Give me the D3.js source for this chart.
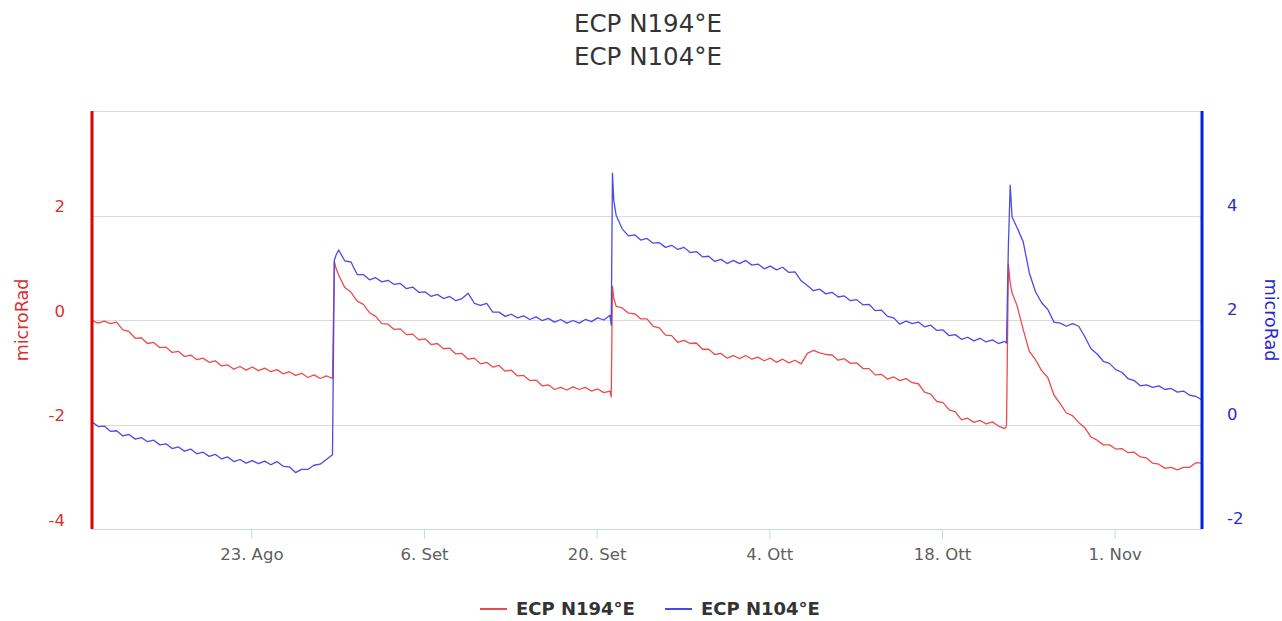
<!DOCTYPE html>
<html>
<head>
<meta charset="utf-8">
<script src="https://cdn.jsdelivr.net/npm/d3@7"></script>
<style>
  html, body { margin: 0; padding: 0; background: #ffffff; }
  svg { display: block; font-family: "DejaVu Sans", "Noto Sans", sans-serif; }
</style>
</head>
<body>
<svg id="chart" width="1282" height="621"></svg>
<script>
// ---- Chart data -------------------------------------------------------
const titleLines = ["ECP N194°E", "ECP N104°E"];
const seriesNames = ["ECP N194°E", "ECP N104°E"];
const axisTitle = "microRad";

// Time base of the record and offsets of each sample, in days
const startTime = "2019-08-10T02:00:00Z";
const spanDays = 90;
const dayOffsets = [
  0, 0.5, 1, 1.5, 2, 2.5, 3, 3.5, 4, 4.5, 5, 5.5, 6, 6.5, 7, 7.5, 8, 8.5, 9, 9.5,
  10, 10.5, 11, 11.5, 12, 12.5, 13, 13.5, 14, 14.5, 15, 15.5, 16, 16.5, 17, 17.5, 18, 18.5, 19, 19.5,
  19.65, 19.8,
  20, 20.5, 21, 21.5, 22, 22.5, 23, 23.5, 24, 24.5, 25, 25.5, 26, 26.5, 27, 27.5, 28, 28.5, 29, 29.5,
  30, 30.5, 31, 31.5, 32, 32.5, 33, 33.5, 34, 34.5, 35, 35.5, 36, 36.5, 37, 37.5, 38, 38.5, 39, 39.5,
  40, 40.5, 41, 41.5, 42,
  42.1, 42.2, 42.3,
  42.5, 43, 43.5, 44, 44.5, 45, 45.5, 46, 46.5, 47, 47.5, 48, 48.5, 49, 49.5,
  50, 50.5, 51, 51.5, 52, 52.5, 53, 53.5, 54, 54.5, 55, 55.5, 56, 56.5, 57, 57.5, 58, 58.5, 59, 59.5,
  60, 60.5, 61, 61.5, 62, 62.5, 63, 63.5, 64, 64.5, 65, 65.5, 66, 66.5, 67, 67.5, 68, 68.5, 69, 69.5,
  70, 70.5, 71, 71.5, 72, 72.5, 73, 73.5, 74,
  74.15, 74.3, 74.45, 74.6,
  75, 75.5, 76, 76.5, 77, 77.5, 78, 78.5, 79, 79.5, 80, 80.5, 81, 81.5, 82, 82.5, 83, 83.5, 84, 84.5,
  85, 85.5, 86, 86.5, 87, 87.5, 88, 88.5, 89, 89.5, 90
];

// ECP N194°E (left axis, microRad)
const n194 = [
  -0.01, -0.06, -0.02, -0.07, -0.04, -0.19, -0.22, -0.35, -0.34, -0.45, -0.43, -0.53, -0.52, -0.62, -0.60, -0.70, -0.67, -0.76, -0.73, -0.81,
  -0.78, -0.88, -0.86, -0.94, -0.89, -0.96, -0.90, -0.97, -0.92, -0.99, -0.95, -1.03, -0.99, -1.06, -1.02, -1.10, -1.05, -1.12, -1.07, -1.12,
  1.12, 0.98,
  0.86, 0.62, 0.53, 0.36, 0.30, 0.14, 0.07, -0.07, -0.08, -0.18, -0.17, -0.28, -0.27, -0.38, -0.36, -0.47, -0.45, -0.55, -0.54, -0.65,
  -0.64, -0.75, -0.73, -0.84, -0.81, -0.90, -0.87, -0.98, -0.96, -1.07, -1.06, -1.16, -1.15, -1.26, -1.24, -1.33, -1.29, -1.34, -1.28, -1.33,
  -1.29, -1.36, -1.32, -1.39, -1.36,
  -1.47, 0.65, 0.42,
  0.26, 0.23, 0.13, 0.12, 0.02, 0.02, -0.12, -0.15, -0.29, -0.30, -0.43, -0.39, -0.45, -0.44, -0.56,
  -0.56, -0.66, -0.64, -0.73, -0.68, -0.74, -0.68, -0.75, -0.71, -0.78, -0.73, -0.81, -0.75, -0.82, -0.77, -0.84, -0.64, -0.58, -0.63, -0.66,
  -0.67, -0.77, -0.74, -0.83, -0.82, -0.93, -0.93, -1.05, -1.04, -1.13, -1.09, -1.16, -1.12, -1.20, -1.22, -1.38, -1.42, -1.56, -1.58, -1.72,
  -1.76, -1.91, -1.88, -1.96, -1.92, -1.99, -1.95, -2.03, -2.08,
  -2.03, 1.07, 0.70, 0.52,
  0.28, -0.18, -0.60, -0.76, -0.97, -1.10, -1.44, -1.60, -1.78, -1.83, -1.96, -2.06, -2.24, -2.30, -2.39, -2.39, -2.47, -2.46, -2.54, -2.53,
  -2.62, -2.64, -2.74, -2.76, -2.84, -2.82, -2.87, -2.82, -2.82, -2.73, -2.74
];

// ECP N104°E (right axis, microRad)
const n104 = [
  -0.15, -0.24, -0.23, -0.33, -0.32, -0.42, -0.39, -0.48, -0.45, -0.53, -0.50, -0.59, -0.57, -0.66, -0.63, -0.71, -0.67, -0.76, -0.73, -0.81,
  -0.77, -0.86, -0.82, -0.91, -0.87, -0.94, -0.89, -0.95, -0.90, -0.97, -0.91, -1.00, -1.01, -1.12, -1.06, -1.06, -0.98, -0.96, -0.87, -0.78,
  2.95, 3.05,
  3.14, 2.93, 2.91, 2.67, 2.67, 2.57, 2.61, 2.53, 2.56, 2.48, 2.50, 2.40, 2.43, 2.33, 2.34, 2.25, 2.29, 2.21, 2.25, 2.17,
  2.21, 2.31, 2.12, 2.08, 2.12, 1.95, 1.95, 1.87, 1.91, 1.84, 1.88, 1.81, 1.86, 1.79, 1.83, 1.76, 1.81, 1.74, 1.79, 1.74,
  1.81, 1.77, 1.84, 1.80, 1.89,
  1.70, 4.61, 4.10,
  3.80, 3.54, 3.41, 3.43, 3.33, 3.36, 3.27, 3.28, 3.19, 3.23, 3.15, 3.19, 3.09, 3.11, 3.01,
  3.02, 2.92, 2.96, 2.88, 2.94, 2.88, 2.94, 2.85, 2.87, 2.78, 2.83, 2.76, 2.81, 2.71, 2.72, 2.55, 2.46, 2.36, 2.39, 2.30,
  2.33, 2.24, 2.26, 2.17, 2.19, 2.09, 2.10, 1.98, 1.99, 1.87, 1.84, 1.72, 1.78, 1.73, 1.76, 1.67, 1.70, 1.60, 1.61, 1.50,
  1.52, 1.43, 1.47, 1.40, 1.45, 1.38, 1.42, 1.35, 1.39,
  1.36, 3.20, 4.38, 3.77,
  3.57, 3.30, 2.70, 2.34, 2.13, 2.00, 1.76, 1.74, 1.68, 1.73, 1.68, 1.48, 1.25, 1.15, 1.01, 0.97, 0.85, 0.80, 0.68, 0.64,
  0.54, 0.56, 0.51, 0.54, 0.47, 0.49, 0.42, 0.44, 0.36, 0.34, 0.27
];

// Axis ticks
const xTickDates = ["2019-08-23", "2019-09-06", "2019-09-20", "2019-10-04", "2019-10-18", "2019-11-01"];
const xTickLabels = ["23. Ago", "6. Set", "20. Set", "4. Ott", "18. Ott", "1. Nov"];
const leftGridValues = [-4, -2, 0, 2, 4];
const leftTickValues = [-4, -2, 0, 2];
const rightTickValues = [-2, 0, 2, 4];
const leftDomain = [-4, 4];
const rightDomain = [-2.2, 5.8];

// ---- Layout & styles --------------------------------------------------
const plot = { left: 92, right: 1202, top: 111, bottom: 529 };
const colors = {
  red: "#ee4a4a", blue: "#4a4ae8",
  redAxis: "#e00000", blueAxis: "#0022dd",
  redText: "#d93030", blueText: "#2a2ad0",
  grid: "#dadada", xAxis: "#ccd6eb", text: "#333333", xText: "#5e5e5e"
};

const svg = d3.select("#chart");

const t0 = new Date(startTime);
const toDate = d => new Date(t0.getTime() + d * 864e5);

const x = d3.scaleUtc()
  .domain([t0, toDate(spanDays)])
  .range([plot.left, plot.right]);
const yLeft = d3.scaleLinear().domain(leftDomain).range([plot.bottom, plot.top]);
const yRight = d3.scaleLinear().domain(rightDomain).range([plot.bottom, plot.top]);

// Title
svg.append("g").selectAll("text")
  .data(titleLines)
  .join("text")
  .attr("x", 648)
  .attr("y", (d, i) => 32 + i * 33)
  .attr("text-anchor", "middle")
  .attr("fill", colors.text)
  .style("font-size", "24.5px")
  .text(d => d);

// Horizontal grid lines (left axis)
svg.append("g")
  .selectAll("line")
  .data(leftGridValues)
  .join("line")
  .attr("x1", plot.left).attr("x2", plot.right)
  .attr("y1", d => Math.round(yLeft(d)) + 0.5)
  .attr("y2", d => Math.round(yLeft(d)) + 0.5)
  .attr("stroke", colors.grid)
  .attr("stroke-width", 1);

// X axis
const xAxis = d3.axisBottom(x)
  .tickValues(xTickDates.map(s => new Date(s + "T00:00:00Z")))
  .tickFormat((d, i) => xTickLabels[i])
  .tickSize(10)
  .tickPadding(9);

const gx = svg.append("g")
  .attr("transform", `translate(0,${plot.bottom})`)
  .call(xAxis);
gx.select(".domain").attr("stroke", colors.xAxis).attr("d", `M${plot.left},0.5H${plot.right}`);
gx.selectAll(".tick line").attr("stroke", colors.xAxis);
gx.selectAll(".tick text")
  .attr("fill", colors.xText)
  .style("font-size", "16.5px")
  .style("font-family", "'DejaVu Sans', sans-serif");

// Left axis labels (set slightly above their grid lines)
const gyl = svg.append("g")
  .attr("transform", `translate(${plot.left},-9)`)
  .call(d3.axisLeft(yLeft).tickValues(leftTickValues).tickFormat(d => String(d)).tickSize(0).tickPadding(27));
gyl.select(".domain").remove();
gyl.selectAll(".tick text")
  .attr("fill", colors.redText)
  .style("font-size", "16.5px")
  .style("font-family", "'DejaVu Sans', sans-serif");

// Right axis labels
const gyr = svg.append("g")
  .attr("transform", `translate(${plot.right},0)`)
  .call(d3.axisRight(yRight).tickValues(rightTickValues).tickFormat(d => String(d)).tickSize(0).tickPadding(25));
gyr.select(".domain").remove();
gyr.selectAll(".tick text")
  .attr("fill", colors.blueText)
  .style("font-size", "16.5px")
  .style("font-family", "'DejaVu Sans', sans-serif");

// Axis titles
svg.append("text")
  .attr("transform", `translate(28,${(plot.top + plot.bottom) / 2}) rotate(-90)`)
  .attr("text-anchor", "middle")
  .attr("fill", colors.redText)
  .style("font-size", "17.5px")
  .text(axisTitle);
svg.append("text")
  .attr("transform", `translate(1265,${(plot.top + plot.bottom) / 2}) rotate(90)`)
  .attr("text-anchor", "middle")
  .attr("fill", colors.blueText)
  .style("font-size", "17.5px")
  .text(axisTitle);

// Series
svg.append("defs").append("clipPath").attr("id", "plotClip")
  .append("rect")
  .attr("x", plot.left).attr("y", plot.top)
  .attr("width", plot.right - plot.left).attr("height", plot.bottom - plot.top);

const n = Math.min(dayOffsets.length, n194.length, n104.length);
const idx = d3.range(n);

const lineLeft = d3.line().x(i => x(toDate(dayOffsets[i]))).y(i => yLeft(n194[i]));
const lineRight = d3.line().x(i => x(toDate(dayOffsets[i]))).y(i => yRight(n104[i]));

const gSeries = svg.append("g").attr("clip-path", "url(#plotClip)");
gSeries.append("path")
  .attr("d", lineLeft(idx))
  .attr("fill", "none")
  .attr("stroke", colors.red)
  .attr("stroke-width", 1.3)
  .attr("stroke-linejoin", "round");
gSeries.append("path")
  .attr("d", lineRight(idx))
  .attr("fill", "none")
  .attr("stroke", colors.blue)
  .attr("stroke-width", 1.3)
  .attr("stroke-linejoin", "round");

// Coloured axis lines
svg.append("line")
  .attr("x1", plot.left).attr("x2", plot.left)
  .attr("y1", plot.top).attr("y2", plot.bottom)
  .attr("stroke", colors.redAxis).attr("stroke-width", 3);
svg.append("line")
  .attr("x1", plot.right).attr("x2", plot.right)
  .attr("y1", plot.top).attr("y2", plot.bottom)
  .attr("stroke", colors.blueAxis).attr("stroke-width", 3);

// Legend
const legendItems = [
  { name: seriesNames[0], color: colors.red, x: 480 },
  { name: seriesNames[1], color: colors.blue, x: 665 }
];
const gLegend = svg.append("g");
legendItems.forEach(it => {
  gLegend.append("line")
    .attr("x1", it.x).attr("x2", it.x + 27)
    .attr("y1", 609).attr("y2", 609)
    .attr("stroke", it.color).attr("stroke-width", 2);
  gLegend.append("text")
    .attr("x", it.x + 36).attr("y", 615)
    .attr("fill", colors.text)
    .style("font-size", "18px")
    .style("font-weight", "bold")
    .text(it.name);
});
</script>
</body>
</html>
